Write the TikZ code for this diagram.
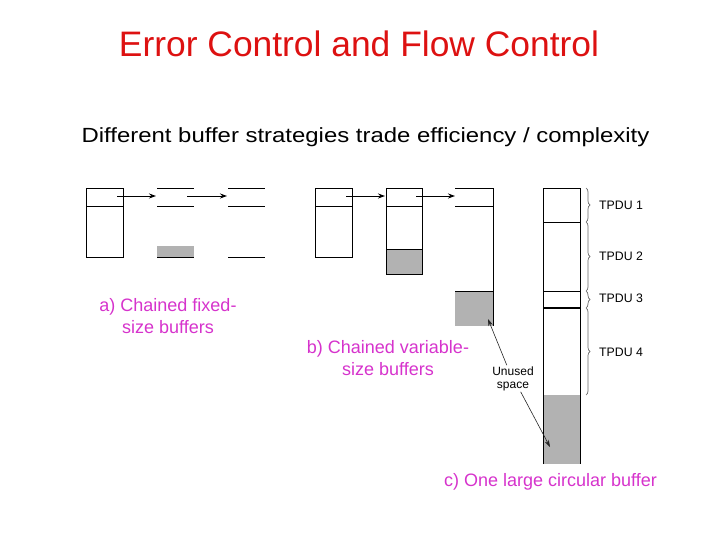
\documentclass[tikz,border=0pt]{standalone}
\usepackage{fontspec}
\setmainfont{Liberation Sans}
\usetikzlibrary{arrows.meta,decorations.pathreplacing}
\definecolor{titlered}{RGB}{221,17,17}
\definecolor{labelmag}{RGB}{214,51,204}
\definecolor{bufgray}{RGB}{178,178,178}
\begin{document}
\begin{tikzpicture}[x=1pt,y=-1pt,
  bufbox/.style={draw=black, line width=0.9pt, inner sep=0pt},
  bufline/.style={line width=0.9pt},
  thickline/.style={line width=2pt},
  grayfill/.style={fill=bufgray},
  ptr/.style={-{Stealth[length=7pt,width=5pt]}, line width=0.9pt},
  notearrow/.style={-{Stealth[length=7pt,width=4.5pt]}, line width=0.6pt, draw=black!85},
  tpdubrace/.style={decorate, decoration={brace,amplitude=4pt}, draw=black!60, line width=0.7pt},
  tpdulabel/.style={font=\fontsize{12.3}{14}\selectfont, anchor=west, inner sep=0pt},
  caption/.style={text=labelmag, font=\fontsize{18}{21.5}\selectfont, align=center, inner sep=0pt},
]
\useasboundingbox (0,0) rectangle (720,540);

% titles
\node[anchor=base, text=titlered, font=\fontsize{35.4}{40}\selectfont, inner sep=0pt] (title) at (359,57) {Error Control and Flow Control};
\node[anchor=base, font=\fontsize{20.5}{24}\selectfont, inner sep=0pt] (subtitle) at (365.5,143)
  {\scalebox{1.167}[1]{Different buffer strategies trade efficiency / complexity}};

% ---------- a) chained fixed-size buffers
\node[bufbox, minimum width=37pt, minimum height=69pt] (a1) at (104.5,222.5) {};
\draw[bufline] (86,206) -- (123,206);
\fill[grayfill] (157,246) rectangle (194,257);
\draw[bufline] (157,188) -- (194,188) (157,206) -- (194,206) (157,257) -- (194,257);
\draw[bufline] (228,188) -- (265,188) (228,206) -- (265,206) (228,257) -- (265,257);
\coordinate (a1p) at (117,196);
\coordinate (a2in) at (156,196);
\coordinate (a2p) at (187,196);
\coordinate (a3in) at (227,196);
\draw[ptr] (a1p) -- (a2in);
\draw[ptr] (a2p) -- (a3in);
\node[caption, anchor=north] (capa) at (168,298.6) {a) Chained fixed-\\size buffers};

% ---------- b) chained variable-size buffers
\node[bufbox, minimum width=37pt, minimum height=69pt] (b1) at (333.5,222.5) {};
\draw[bufline] (315,206) -- (352,206);
\fill[grayfill] (386,249) rectangle (422,274);
\node[bufbox, minimum width=36pt, minimum height=86pt] (b2) at (404,231) {};
\draw[bufline] (386,206) -- (422,206) (386,249) -- (422,249);
\fill[grayfill] (455,291) rectangle (493,326);
\draw[bufline] (455,188) -- (493,188) -- (493,326);
\draw[bufline] (455,206) -- (493,206) (455,291) -- (493,291);
\coordinate (b1p) at (346,196);
\coordinate (b2in) at (385,196);
\coordinate (b2p) at (416,196);
\coordinate (b3in) at (455,196);
\draw[ptr] (b1p) -- (b2in);
\draw[ptr] (b2p) -- (b3in);
\coordinate (bgap) at (488,319);
\node[caption, anchor=north] (capb) at (388,340.4) {b) Chained variable-\\size buffers};

% ---------- c) one large circular buffer
\fill[grayfill] (543,395) rectangle (580,464);
\draw[bufline] (543,464) -- (543,188) -- (580,188) -- (580,464);
\draw[bufline] (543,222) -- (580,222) (543,291) -- (580,291);
\draw[thickline] (543,308) -- (580,308);
\coordinate (cgap) at (550,447);

\draw[tpdubrace] (586,188) -- (586,222);
\draw[tpdubrace] (586,222) -- (586,291);
\draw[tpdubrace] (586,291) -- (586,308);
\draw[tpdubrace] (586,308) -- (586,395);
\node[tpdulabel] (t1) at (599,205) {TPDU 1};
\node[tpdulabel] (t2) at (599,256) {TPDU 2};
\node[tpdulabel] (t3) at (599,298.5) {TPDU 3};
\node[tpdulabel] (t4) at (599,352) {TPDU 4};

\node[font=\fontsize{12}{13}\selectfont, align=center, inner sep=1pt] (unused) at (513,378.5) {Unused\\space};
\draw[notearrow] (unused.115) -- (bgap);
\draw[notearrow] (unused.-60) -- (cgap);

\node[caption, anchor=base west] (capc) at (444,486.5) {c) One large circular buffer};
\end{tikzpicture}
\end{document}
